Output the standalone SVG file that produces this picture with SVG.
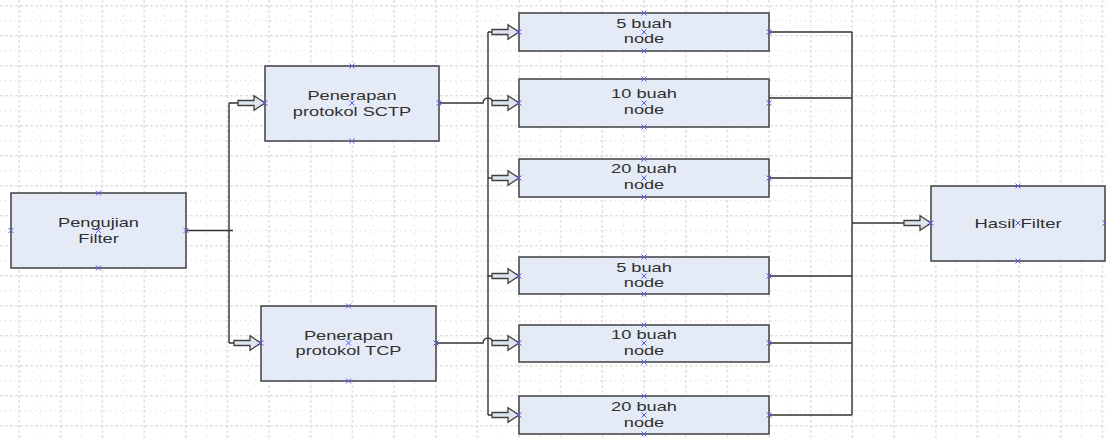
<svg xmlns="http://www.w3.org/2000/svg" xmlns:xlink="http://www.w3.org/1999/xlink" width="1106" height="440" viewBox="0 0 1106 440">
<style>
.box{fill:#e5ebf6;stroke:#404040;stroke-width:1.5}
.lbl{font-family:"Liberation Sans",Arial,sans-serif;font-size:13.2px;fill:#303030;text-anchor:middle}
.con{fill:none;stroke:#333;stroke-width:1.4}
.mk{fill:none;stroke:#5a5af0;stroke-width:1}
.arr{fill:#dfe5ef;stroke:#404040;stroke-width:1.3;stroke-linejoin:miter}
</style>
<defs>
<pattern id="gv" patternUnits="userSpaceOnUse" x="9" y="0" width="41.667" height="15">
<rect x="9.5" y="0" width="1.2" height="3" fill="#d9d9d9"/>
<rect x="9.5" y="5" width="1.2" height="3" fill="#d9d9d9"/>
<rect x="9.5" y="10" width="1.2" height="3" fill="#d9d9d9"/>
<rect x="30.4" y="0" width="1" height="1.5" fill="#dedede"/>
<rect x="30.4" y="7.5" width="1" height="1.5" fill="#dedede"/>
</pattern>
<pattern id="gh" patternUnits="userSpaceOnUse" x="0" y="-1.8" width="5" height="30">
<rect x="0" y="7" width="3" height="1.2" fill="#d9d9d9"/>
<rect x="0" y="22" width="1.5" height="1" fill="#dedede"/>
</pattern>
<path id="arrow" class="arr" d="M-27,-2.5 H-11 V-7.2 L0,0 L-11,7.2 V2.5 H-27 Z"/>
<path id="x" class="mk" d="M-2.5,-2.5 L2.5,2.5 M-2.5,2.5 L2.5,-2.5"/>
</defs>
<rect width="1106" height="440" fill="#fff"/>
<rect width="1106" height="440" fill="url(#gv)"/>
<rect width="1106" height="440" fill="url(#gh)"/>

<g id="connectors">
<path class="con" d="M186,230.5 H233 M229,103 V343 M229,103 H238 M229,343 H234"/>
<path class="con" d="M488,32 V415 M488,32 H492 M488,178 H492 M488,276 H492 M488,415 H492"/>
<path class="con" d="M439,103 H483 A5,5 0 0 1 493,103"/>
<path class="con" d="M436,343 H483 A5,5 0 0 1 493,343"/>
<path class="con" d="M769,32 H852 M769,98 H852 M769,178 H852 M769,276 H852 M769,343 H852 M769,415 H852 M852,32 V415 M852,223 H906"/>
<use href="#arrow" transform="translate(265,103)"/>
<use href="#arrow" transform="translate(261,343)"/>
<use href="#arrow" transform="translate(519,32)"/>
<use href="#arrow" transform="translate(519,103)"/>
<use href="#arrow" transform="translate(519,178)"/>
<use href="#arrow" transform="translate(519,276)"/>
<use href="#arrow" transform="translate(519,343)"/>
<use href="#arrow" transform="translate(519,415)"/>
<use href="#arrow" transform="translate(931,223)"/>
</g>

<g id="pengujian">
<rect class="box" x="11" y="193" width="175" height="75"/>
<text class="lbl" transform="matrix(1.38 0 0 1 98.5 227)">Pengujian</text>
<text class="lbl" transform="matrix(1.38 0 0 1 98.5 243)">Filter</text>
<use href="#x" x="98.5" y="193"/><use href="#x" x="98.5" y="268"/><use href="#x" x="11" y="230.5"/><use href="#x" x="186" y="230.5"/><use href="#x" x="98.5" y="230.5"/>
</g>

<g id="sctp">
<rect class="box" x="265" y="66" width="174" height="75"/>
<text class="lbl" transform="matrix(1.38 0 0 1 352 99.5)">Penerapan</text>
<text class="lbl" transform="matrix(1.38 0 0 1 352 115.5)">protokol SCTP</text>
<use href="#x" x="352" y="66"/><use href="#x" x="352" y="141"/><use href="#x" x="265" y="103"/><use href="#x" x="439" y="103"/><use href="#x" x="352" y="103"/>
</g>

<g id="tcp">
<rect class="box" x="261" y="306" width="175" height="75"/>
<text class="lbl" transform="matrix(1.38 0 0 1 348.5 339.5)">Penerapan</text>
<text class="lbl" transform="matrix(1.38 0 0 1 348.5 355)">protokol TCP</text>
<use href="#x" x="348.5" y="306"/><use href="#x" x="348.5" y="381"/><use href="#x" x="261" y="343"/><use href="#x" x="436" y="343"/><use href="#x" x="348.5" y="343"/>
</g>

<g id="sctp-5">
<rect class="box" x="519" y="13" width="250" height="38"/>
<text class="lbl" transform="matrix(1.38 0 0 1 644 27.5)">5 buah</text>
<text class="lbl" transform="matrix(1.38 0 0 1 644 43)">node</text>
<use href="#x" x="644" y="13"/><use href="#x" x="644" y="51"/><use href="#x" x="519" y="32"/><use href="#x" x="769" y="32"/><use href="#x" x="644" y="32"/>
</g>

<g id="sctp-10">
<rect class="box" x="519" y="79" width="250" height="48"/>
<text class="lbl" transform="matrix(1.38 0 0 1 644 98)">10 buah</text>
<text class="lbl" transform="matrix(1.38 0 0 1 644 114)">node</text>
<use href="#x" x="644" y="79"/><use href="#x" x="644" y="127"/><use href="#x" x="519" y="103"/><use href="#x" x="769" y="103"/><use href="#x" x="644" y="103"/>
</g>

<g id="sctp-20">
<rect class="box" x="519" y="159" width="250" height="38"/>
<text class="lbl" transform="matrix(1.38 0 0 1 644 173)">20 buah</text>
<text class="lbl" transform="matrix(1.38 0 0 1 644 189)">node</text>
<use href="#x" x="644" y="159"/><use href="#x" x="644" y="197"/><use href="#x" x="519" y="178"/><use href="#x" x="769" y="178"/><use href="#x" x="644" y="178"/>
</g>

<g id="tcp-5">
<rect class="box" x="519" y="257" width="250" height="37"/>
<text class="lbl" transform="matrix(1.38 0 0 1 644 271.5)">5 buah</text>
<text class="lbl" transform="matrix(1.38 0 0 1 644 287)">node</text>
<use href="#x" x="644" y="257"/><use href="#x" x="644" y="294"/><use href="#x" x="519" y="276"/><use href="#x" x="769" y="276"/><use href="#x" x="644" y="276"/>
</g>

<g id="tcp-10">
<rect class="box" x="519" y="325" width="250" height="37"/>
<text class="lbl" transform="matrix(1.38 0 0 1 644 339)">10 buah</text>
<text class="lbl" transform="matrix(1.38 0 0 1 644 355)">node</text>
<use href="#x" x="644" y="325"/><use href="#x" x="644" y="362"/><use href="#x" x="519" y="343"/><use href="#x" x="769" y="343"/><use href="#x" x="644" y="343"/>
</g>

<g id="tcp-20">
<rect class="box" x="519" y="396" width="250" height="38"/>
<text class="lbl" transform="matrix(1.38 0 0 1 644 410.7)">20 buah</text>
<text class="lbl" transform="matrix(1.38 0 0 1 644 426.7)">node</text>
<use href="#x" x="644" y="396"/><use href="#x" x="644" y="434"/><use href="#x" x="519" y="415"/><use href="#x" x="769" y="415"/><use href="#x" x="644" y="415"/>
</g>

<g id="hasil">
<rect class="box" x="931" y="186" width="174" height="75"/>
<text class="lbl" transform="matrix(1.4 0 0 1 1018 227.5)">Hasil Filter</text>
<use href="#x" x="1018" y="186"/><use href="#x" x="1018" y="261"/><use href="#x" x="931" y="223"/><use href="#x" x="1105" y="223"/><use href="#x" x="1018" y="223"/>
</g>
</svg>
